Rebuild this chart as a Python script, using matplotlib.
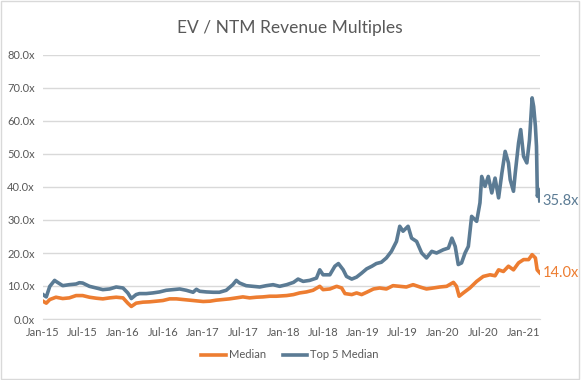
import pandas as pd
import matplotlib
matplotlib.use("Agg")
import matplotlib.pyplot as plt
import matplotlib.dates as mdates
from matplotlib.ticker import FuncFormatter, MultipleLocator
from matplotlib.patches import Rectangle

plt.rcParams["font.family"] = ["Lato", "DejaVu Sans"]

# Top 5 Median
top5_dates = [
    "2015-01-01", "2015-01-16", "2015-02-01", "2015-02-23", "2015-03-01", "2015-04-01",
    "2015-05-01", "2015-06-01", "2015-06-16", "2015-07-01", "2015-08-01", "2015-09-01",
    "2015-10-01", "2015-11-01", "2015-12-01", "2016-01-01", "2016-01-23", "2016-02-08",
    "2016-03-01", "2016-03-16", "2016-04-16", "2016-05-16", "2016-06-16", "2016-07-16",
    "2016-08-16", "2016-09-16", "2016-10-16", "2016-11-16", "2016-12-01", "2016-12-16",
    "2017-01-16", "2017-02-16", "2017-03-16", "2017-04-16", "2017-05-16", "2017-06-01",
    "2017-06-16", "2017-07-16", "2017-08-16", "2017-09-16", "2017-10-16", "2017-11-16",
    "2017-12-16", "2018-01-17", "2018-02-17", "2018-03-10", "2018-04-02", "2018-05-02",
    "2018-06-02", "2018-06-17", "2018-07-02", "2018-08-02", "2018-08-25", "2018-09-10",
    "2018-10-02", "2018-10-17", "2018-11-10", "2018-12-02", "2018-12-25", "2019-01-17",
    "2019-02-10", "2019-03-02", "2019-03-25", "2019-04-17", "2019-05-10", "2019-06-02",
    "2019-06-17", "2019-07-02", "2019-07-25", "2019-08-10", "2019-09-02", "2019-09-25",
    "2019-10-17", "2019-11-10", "2019-12-02", "2020-01-02", "2020-01-25", "2020-02-10",
    "2020-02-25", "2020-03-10", "2020-03-25", "2020-04-10", "2020-04-25", "2020-05-10",
    "2020-06-02", "2020-06-17", "2020-06-25", "2020-07-10", "2020-07-25", "2020-08-10",
    "2020-08-25", "2020-09-10", "2020-09-25", "2020-10-10", "2020-10-25", "2020-11-02",
    "2020-11-17", "2020-11-25", "2020-12-10", "2020-12-20", "2021-01-02", "2021-01-17",
    "2021-01-29", "2021-02-10", "2021-02-17", "2021-02-25", "2021-03-02", "2021-03-06",
    "2021-03-12", "2021-03-17",
]
top5_values = [
    7.4, 6.7, 9.9, 11.7, 11.4, 10.1,
    10.4, 10.6, 11.0, 10.9, 9.9, 9.4,
    8.9, 9.1, 9.7, 9.4, 7.9, 6.2,
    7.4, 7.7, 7.7, 7.9, 8.2, 8.7,
    8.9, 9.1, 8.7, 8.1, 9.0, 8.4,
    8.2, 8.1, 8.1, 8.7, 10.4, 11.7,
    10.9, 10.1, 9.9, 9.7, 10.1, 10.4,
    9.9, 10.4, 11.1, 12.1, 11.4, 11.7,
    12.4, 14.9, 13.4, 13.4, 16.0, 16.8,
    14.9, 12.9, 12.1, 12.7, 13.9, 15.2,
    16.0, 16.8, 17.2, 18.5, 20.5, 23.5,
    28.1, 26.6, 28.1, 24.5, 23.5, 20.0,
    18.5, 20.5, 20.0, 21.0, 21.5, 24.5,
    22.0, 16.5, 17.0, 20.0, 22.0, 31.1,
    29.6, 35.2, 43.2, 40.2, 43.2, 38.2,
    42.7, 36.7, 44.2, 50.8, 47.3, 42.2,
    38.7, 44.2, 53.3, 57.4, 49.3, 47.3,
    54.3, 67.0, 64.4, 58.4, 52.3, 37.2,
    39.2, 35.8,
]

# Median
median_dates = [
    "2015-01-01", "2015-01-16", "2015-02-01", "2015-03-01", "2015-04-01", "2015-05-01",
    "2015-06-01", "2015-07-01", "2015-08-01", "2015-09-01", "2015-10-01", "2015-11-01",
    "2015-12-01", "2016-01-01", "2016-01-23", "2016-02-08", "2016-03-01", "2016-04-01",
    "2016-05-01", "2016-06-01", "2016-07-01", "2016-08-01", "2016-09-01", "2016-10-01",
    "2016-11-01", "2016-12-01", "2017-01-01", "2017-02-01", "2017-03-01", "2017-04-01",
    "2017-05-01", "2017-06-01", "2017-07-01", "2017-08-01", "2017-09-01", "2017-10-01",
    "2017-11-01", "2017-12-01", "2018-01-17", "2018-02-17", "2018-03-17", "2018-04-17",
    "2018-05-17", "2018-06-17", "2018-07-02", "2018-08-02", "2018-09-02", "2018-09-25",
    "2018-10-10", "2018-11-10", "2018-12-02", "2018-12-25", "2019-01-17", "2019-02-17",
    "2019-03-17", "2019-04-17", "2019-05-17", "2019-06-17", "2019-07-17", "2019-08-17",
    "2019-09-17", "2019-10-17", "2019-11-17", "2019-12-17", "2020-01-17", "2020-02-17",
    "2020-03-02", "2020-03-14", "2020-04-02", "2020-05-02", "2020-06-02", "2020-07-02",
    "2020-08-02", "2020-08-25", "2020-09-10", "2020-10-02", "2020-10-25", "2020-11-17",
    "2020-12-10", "2021-01-02", "2021-01-25", "2021-02-10", "2021-02-25", "2021-03-05",
    "2021-03-17",
]
median_values = [
    5.4, 4.8, 5.9, 6.6, 6.2, 6.4,
    7.1, 7.1, 6.6, 6.3, 6.1, 6.4,
    6.6, 6.4, 4.8, 3.8, 4.8, 5.1,
    5.2, 5.4, 5.6, 6.1, 6.1, 5.9,
    5.7, 5.5, 5.3, 5.4, 5.7, 5.9,
    6.1, 6.4, 6.7, 6.4, 6.6, 6.7,
    6.9, 6.9, 7.1, 7.4, 7.9, 8.2,
    8.7, 9.9, 8.9, 9.1, 9.9, 9.4,
    7.7, 7.4, 7.9, 7.4, 8.1, 9.1,
    9.4, 9.1, 10.1, 9.9, 9.7, 10.4,
    9.7, 9.1, 9.4, 9.7, 9.9, 11.1,
    9.9, 6.9, 7.9, 9.4, 11.4, 12.9,
    13.4, 13.1, 14.9, 14.4, 16.0, 14.9,
    17.0, 18.0, 18.0, 19.5, 18.5, 14.9,
    14.0,
]

orange = "#ED7D31"
slate = "#5B7B94"
gray_text = "#595959"

top5 = pd.Series(top5_values, index=pd.to_datetime(top5_dates))
median = pd.Series(median_values, index=pd.to_datetime(median_dates))

fig = plt.figure(figsize=(5.81, 3.80), dpi=100)
ax = fig.add_axes([43 / 581, 1 - 319 / 380, 497 / 581, 264 / 380])

ax.plot(median.index, median.values, color=orange, lw=2.6, label="Median")
ax.plot(top5.index, top5.values, color=slate, lw=2.6, label="Top 5 Median")

ax.set_ylim(0, 80)
ax.set_xlim(pd.Timestamp("2015-01-01"), pd.Timestamp("2021-03-18"))
ax.yaxis.set_major_locator(MultipleLocator(10))
ax.yaxis.set_major_formatter(FuncFormatter(lambda v, p: f"{v:.1f}x"))
ax.xaxis.set_major_locator(mdates.MonthLocator(bymonth=[1, 7]))
ax.xaxis.set_major_formatter(mdates.DateFormatter("%b-%y"))
ax.grid(axis="y", color="#D9D9D9", lw=1)
ax.set_axisbelow(True)
for s in ["left", "right", "top"]:
    ax.spines[s].set_visible(False)
ax.spines["bottom"].set_color("#D9D9D9")
ax.tick_params(length=0, labelsize=8, colors=gray_text, pad=6)

# end labels
ax.annotate(f"{top5.iloc[-1]:.1f}x", (top5.index[-1], top5.iloc[-1]), xytext=(2, 0),
            textcoords="offset points", va="center", ha="left", color=slate,
            fontsize=10.5, annotation_clip=False)
ax.annotate(f"{median.iloc[-1]:.1f}x", (median.index[-1], median.iloc[-1]), xytext=(2, 0),
            textcoords="offset points", va="center", ha="left", color=orange,
            fontsize=10.5, annotation_clip=False)

fig.suptitle("EV / NTM Revenue Multiples", x=290 / 581, y=1 - 28 / 380, va="center",
             fontsize=12.5, color=gray_text)
fig.legend(loc="center", bbox_to_anchor=(290 / 581, 1 - 355 / 380), ncol=2, frameon=False,
           fontsize=8, labelcolor=gray_text, handlelength=2.2, columnspacing=1.5,
           handletextpad=0.3)

fig.patches.append(Rectangle((0.002, 0.003), 0.994, 0.994, transform=fig.transFigure,
                             fill=False, edgecolor="#D9D9D9", lw=1))

fig.savefig("out.png", dpi=100)
